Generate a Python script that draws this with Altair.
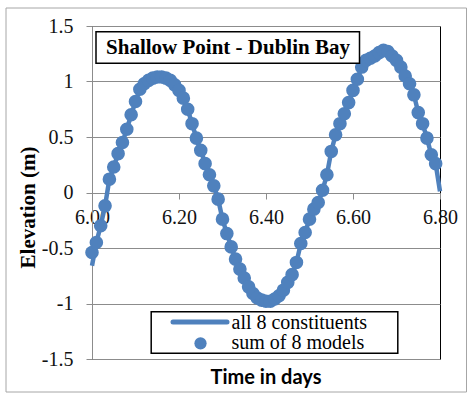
import altair as alt
import pandas as pd

# ---- data ----
time_days = [6.00, 6.01, 6.02, 6.03, 6.04, 6.05, 6.06, 6.07, 6.08, 6.09,
             6.10, 6.11, 6.12, 6.13, 6.14, 6.15, 6.16, 6.17, 6.18, 6.19,
             6.20, 6.21, 6.22, 6.23, 6.24, 6.25, 6.26, 6.27, 6.28, 6.29,
             6.30, 6.31, 6.32, 6.33, 6.34, 6.35, 6.36, 6.37, 6.38, 6.39,
             6.40, 6.41, 6.42, 6.43, 6.44, 6.45, 6.46, 6.47, 6.48, 6.49,
             6.50, 6.51, 6.52, 6.53, 6.54, 6.55, 6.56, 6.57, 6.58, 6.59,
             6.60, 6.61, 6.62, 6.63, 6.64, 6.65, 6.66, 6.67, 6.68, 6.69,
             6.70, 6.71, 6.72, 6.73, 6.74, 6.75, 6.76, 6.77, 6.78, 6.79,
             6.80]

all_8_constituents = [
    -0.66, -0.45, -0.30, -0.12, 0.12, 0.23, 0.35, 0.45, 0.57, 0.70,
    0.82, 0.93, 0.98, 1.01, 1.03, 1.04, 1.04, 1.03, 1.01, 0.97,
    0.92, 0.85, 0.75, 0.62, 0.49, 0.38, 0.26, 0.16, 0.06, -0.06,
    -0.24, -0.37, -0.49, -0.60, -0.69, -0.77, -0.85, -0.91, -0.95, -0.97,
    -0.98, -0.98, -0.96, -0.93, -0.88, -0.81, -0.74, -0.63, -0.46, -0.36,
    -0.24, -0.15, -0.09, 0.02, 0.16, 0.37, 0.52, 0.62, 0.71, 0.81,
    0.92, 1.02, 1.13, 1.19, 1.21, 1.23, 1.26, 1.28, 1.27, 1.23,
    1.19, 1.13, 1.05, 0.98, 0.88, 0.72, 0.62, 0.49, 0.34, 0.26,
    0.01]

sum_of_8_models = [
    -0.54, -0.45, -0.30, -0.12, 0.12, 0.23, 0.35, 0.45, 0.57, 0.70,
    0.82, 0.93, 0.98, 1.01, 1.03, 1.04, 1.04, 1.03, 1.01, 0.97,
    0.92, 0.85, 0.75, 0.62, 0.49, 0.38, 0.26, 0.16, 0.06, -0.06,
    -0.24, -0.37, -0.49, -0.60, -0.69, -0.77, -0.85, -0.91, -0.95, -0.97,
    -0.98, -0.98, -0.96, -0.93, -0.88, -0.81, -0.74, -0.63, -0.46, -0.36,
    -0.24, -0.15, -0.09, 0.02, 0.16, 0.37, 0.52, 0.62, 0.71, 0.81,
    0.92, 1.02, 1.13, 1.19, 1.21, 1.23, 1.26, 1.28, 1.27, 1.23,
    1.19, 1.13, 1.05, 0.98, 0.88, 0.72, 0.62, 0.49, 0.34, 0.26]

x_ticks = [6.0, 6.2, 6.4, 6.6, 6.8]
y_ticks = [-1.5, -1.0, -0.5, 0.0, 0.5, 1.0, 1.5]
chart_title = "Shallow Point - Dublin Bay"
legend_labels = ["all 8 constituents", "sum of 8 models"]
x_title = "Time in days"
y_title = "Elevation (m)"

# ---- styling ----
BLUE = "#4F81BD"
GRID = "#8C8C8C"
SERIF = "'Liberation Serif', 'Times New Roman', Times, serif"
W, H = 348, 333

line_df = pd.DataFrame({"t": time_days, "v": all_8_constituents})
dot_df = pd.DataFrame({"t": time_days[:len(sum_of_8_models)], "v": sum_of_8_models})
one = pd.DataFrame({"k": [0]})

x_enc = alt.X(
    "t:Q",
    scale=alt.Scale(domain=[6.0, 6.8], nice=False, zero=False),
    axis=alt.Axis(
        values=x_ticks, format=".2f", offset=-166, grid=False,
        domainColor=GRID, tickColor=GRID, tickSize=6,
        labelFont=SERIF, labelFontSize=20, labelColor="#111",
        labelPadding=8, labelFlush=False, labelOverlap=False,
        title=x_title, titleFont="Lato", titleFontSize=20,
        titleFontWeight="bold", titleColor="#000",
        titleX=173.5, titleY=184, titleAlign="center", titleBaseline="middle",
    ),
)
y_enc = alt.Y(
    "v:Q",
    scale=alt.Scale(domain=[-1.5, 1.5], nice=False),
    axis=alt.Axis(
        values=y_ticks, labelExpr="'' + datum.value", grid=True,
        gridColor=GRID, gridWidth=1, domainColor=GRID, tickColor=GRID,
        tickSize=6, labelFont=SERIF, labelFontSize=20, labelColor="#111",
        labelPadding=13, labelFlush=False,
        title=y_title, titleFont=SERIF, titleFontSize=21, titleFontWeight="bold",
        titleColor="#000", titleX=-63.5, titleY=181, titleAngle=270,
        titleAlign="center", titleBaseline="middle",
    ),
)

outer_border = alt.Chart(one).mark_rect(
    fill="white", fillOpacity=0, stroke="#A6A6A6", strokeWidth=1
).encode(x=alt.value(-86), x2=alt.value(374.5), y=alt.value(-18), y2=alt.value(366))

line = alt.Chart(line_df).mark_line(color=BLUE, strokeWidth=4.5).encode(x=x_enc, y=y_enc)
dots = alt.Chart(dot_df).mark_circle(color=BLUE, size=185, opacity=1).encode(x=x_enc, y=y_enc)

title_box = alt.Chart(one).mark_rect(
    fill="white", stroke="black", strokeWidth=1.5
).encode(x=alt.value(4), x2=alt.value(267.5), y=alt.value(5.7), y2=alt.value(37.3))
title_text = alt.Chart(one).mark_text(
    font=SERIF, fontSize=21, fontWeight="bold", color="black",
    align="center", baseline="middle", text=chart_title
).encode(x=alt.value(136), y=alt.value(22))

legend_box = alt.Chart(one).mark_rect(
    fill="white", stroke="black", strokeWidth=1.5
).encode(x=alt.value(59.2), x2=alt.value(305.8), y=alt.value(285.7), y2=alt.value(327.3))
legend_line = alt.Chart(one).mark_rule(
    color=BLUE, strokeWidth=5, strokeCap="round"
).encode(x=alt.value(81), x2=alt.value(135), y=alt.value(296))
legend_dot = alt.Chart(one).mark_circle(color=BLUE, size=150, opacity=1).encode(
    x=alt.value(108.5), y=alt.value(317.3))
legend_t1 = alt.Chart(one).mark_text(
    font=SERIF, fontSize=20, color="black", align="left", baseline="middle",
    text=legend_labels[0]
).encode(x=alt.value(139.5), y=alt.value(296.5))
legend_t2 = alt.Chart(one).mark_text(
    font=SERIF, fontSize=20, color="black", align="left", baseline="middle",
    text=legend_labels[1]
).encode(x=alt.value(139.5), y=alt.value(317))

chart = alt.layer(
    outer_border, line, dots, title_box, title_text,
    legend_box, legend_line, legend_dot, legend_t1, legend_t2,
).properties(
    width=W, height=H,
    padding={"left": 92, "top": 26, "right": 29, "bottom": 35},
    autosize=alt.AutoSizeParams(type="none"),
    background="white",
).configure_view(stroke="black", strokeWidth=1)

chart.save("out.html", embed_options={"renderer": "svg", "actions": False})
